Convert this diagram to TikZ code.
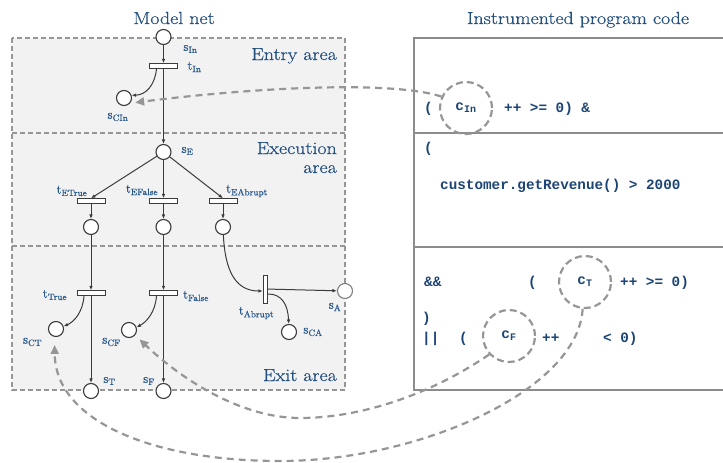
\documentclass[tikz,border=0pt]{standalone}
\usepackage{fontspec}
\newfontfamily\codefont{Liberation Mono}
\newfontfamily\titlefont{Latin Modern Roman}[FakeStretch=1.14,FakeBold=0.5]
\newfontfamily\labfont{Latin Modern Roman}[FakeBold=0.4]
\usetikzlibrary{arrows.meta}
\definecolor{tblue}{RGB}{36,80,128}
\definecolor{lblue}{RGB}{40,88,138}
\definecolor{cblue}{RGB}{28,68,116}
\definecolor{arcgray}{RGB}{60,60,60}
\definecolor{dgray}{RGB}{150,150,150}
\definecolor{areafill}{RGB}{242,242,242}
\definecolor{boxgray}{RGB}{140,140,140}
\begin{document}
\begin{tikzpicture}[x=1pt,y=-1pt,
  place/.style={circle,draw=arcgray,fill=white,line width=1.1pt,minimum size=15pt,inner sep=0pt},
  trans/.style={rectangle,draw=arcgray,fill=white,line width=0.9pt,minimum width=28pt,minimum height=4.5pt,inner sep=0pt},
  vtrans/.style={trans,minimum width=4.5pt,minimum height=28pt},
  arc/.style={draw=arcgray,line width=1pt,-{Latex[length=4.5pt,width=3.6pt]}},
  lab/.style={text=lblue,font=\labfont\fontsize{13}{15}\selectfont,inner sep=0pt},
  title/.style={text=tblue,font=\titlefont\fontsize{17.5}{20}\selectfont,inner sep=0pt},
  code/.style={text=cblue,font=\codefont\bfseries\fontsize{14.3}{16}\selectfont,inner sep=0pt,anchor=base west},
  hole/.style={circle,draw=dgray,line width=2.2pt,dash pattern=on 7pt off 4pt,minimum size=52pt,inner sep=0pt,text=cblue,font=\codefont\bfseries\fontsize{14.3}{16}\selectfont},
  link/.style={draw=dgray,line width=2.2pt,dash pattern=on 7pt off 5pt,-{Triangle[length=9pt,width=8pt]}},
  areaborder/.style={draw=dgray,line width=1.2pt,dash pattern=on 5pt off 3pt},
  codebox/.style={draw=boxgray,line width=1.5pt}
]
\useasboundingbox (0,0) rectangle (723,463);

% areas of the model net
\fill[areafill] (12,38) rectangle (345,390);
\draw[areaborder] (12,38) rectangle (345,390);
\draw[areaborder] (12,133) -- (345,133);
\draw[areaborder] (12,246) -- (345,246);

% code box
\draw[codebox] (760,38) -- (414,38) -- (414,390) -- (760,390);
\draw[codebox] (414,133) -- (760,133);
\draw[codebox] (414,247) -- (760,247);

% titles
\node[title,anchor=base] (tnet) at (174,24) {Model net};
\node[title,anchor=base] (tcode) at (578,24) {Instrumented program code};
\node[title,anchor=base east] (aentry) at (337,60) {Entry area};
\node[title,anchor=base east] (aexec1) at (337,154) {Execution};
\node[title,anchor=base east] (aexec2) at (337,173) {area};
\node[title,anchor=base east] (aexit) at (337,381) {Exit area};

% places and transitions
\node[place] (sIn) at (163.5,37) {};
\node[trans] (tIn) at (163.5,66) {};
\node[place] (sCIn) at (124,98) {};
\node[place] (sE) at (163.5,152) {};
\node[trans] (tETrue) at (91,201) {};
\node[trans] (tEFalse) at (163.5,201) {};
\node[trans] (tEAbrupt) at (223,201) {};
\node[place] (pTrue) at (91,227) {};
\node[place] (pFalse) at (163.5,227) {};
\node[place] (pAbrupt) at (223,227) {};
\node[trans] (tTrue) at (91,293) {};
\node[trans] (tFalse) at (163.5,293) {};
\node[vtrans] (tAbrupt) at (265.5,289) {};
\node[place,draw=gray] (sA) at (345,291) {};
\node[place] (sCA) at (289,332) {};
\node[place] (sCT) at (56,329) {};
\node[place] (sCF) at (129,330) {};
\node[place] (sT) at (91,391) {};
\node[place] (sF) at (163.5,391) {};

% arcs
\draw[arc] (sIn) -- (tIn);
\draw[arc] (tIn) -- (sE);
\draw[arc] ([xshift=-7pt]tIn.south) .. controls (155,85) and (146,95) .. (sCIn.20);
\draw[arc] (sE) -- (tETrue.north);
\draw[arc] (sE) -- (tEFalse.north);
\draw[arc] (sE) -- (tEAbrupt.north);
\draw[arc] (tETrue) -- (pTrue);
\draw[arc] (tEFalse) -- (pFalse);
\draw[arc] (tEAbrupt) -- (pAbrupt);
\draw[arc] (pTrue) -- (tTrue);
\draw[arc] (pFalse) -- (tFalse);
\draw[arc] (tTrue) -- (sT);
\draw[arc] (tFalse) -- (sF);
\draw[arc] ([xshift=-7pt]tTrue.south) .. controls (83,312) and (74,322) .. (sCT.20);
\draw[arc] ([xshift=-7pt]tFalse.south) .. controls (155.5,312) and (146.5,322) .. (sCF.20);
\draw[arc] (pAbrupt) .. controls (225,270) and (235,291) .. ([yshift=-2pt]tAbrupt.west);
\draw[arc] (tAbrupt) -- (sA);
\draw[arc] ([yshift=-5pt]tAbrupt.east) .. controls (282,294) and (288,305) .. (sCA);

% labels
\node[lab] (lsIn) at (190.5,49) {s\textsubscript{In}};
\node[lab] (ltIn) at (194.5,67) {t\textsubscript{In}};
\node[lab] (lsCIn) at (118,117) {s\textsubscript{CIn}};
\node[lab] (lsE) at (187.5,151) {s\textsubscript{E}};
\node[lab] (ltETrue) at (72,191) {t\textsubscript{ETrue}};
\node[lab] (ltEFalse) at (142,190) {t\textsubscript{EFalse}};
\node[lab] (ltEAbrupt) at (247,191) {t\textsubscript{EAbrupt}};
\node[lab] (ltTrue) at (55,295) {t\textsubscript{True}};
\node[lab] (ltFalse) at (196,296) {t\textsubscript{False}};
\node[lab] (ltAbrupt) at (256.5,313) {t\textsubscript{Abrupt}};
\node[lab] (lsA) at (335,307) {s\textsubscript{A}};
\node[lab] (lsCA) at (313,332) {s\textsubscript{CA}};
\node[lab] (lsCT) at (32.5,342) {s\textsubscript{CT}};
\node[lab] (lsCF) at (111.5,342) {s\textsubscript{CF}};
\node[lab] (lsT) at (109.5,381) {s\textsubscript{T}};
\node[lab] (lsF) at (149,381) {s\textsubscript{F}};

% code
\node[code] (c1a) at (424,112) {(};
\node[hole] (cIn) at (466,108) {c\textsubscript{In}};
\node[code] (c1b) at (504,112) {++ >= 0) \&};
\node[code] (c2a) at (424,152) {(};
\node[code] (c2b) at (440,189) {customer.getRevenue() > 2000};
\node[code] (c3a) at (424,286) {\&\&};
\node[code] (c3b) at (528,286) {(};
\node[hole] (cT) at (585,282) {c\textsubscript{T}};
\node[code] (c3c) at (620,286) {++ >= 0)};
\node[code] (c4a) at (422,322) {)};
\node[code] (c5a) at (422,342) {||};
\node[code] (c5b) at (459,342) {(};
\node[hole] (cF) at (509,336) {c\textsubscript{F}};
\node[code] (c5c) at (542,342) {++};
\node[code] (c5d) at (603,342) {< 0)};

% links from code to net
\draw[link,shorten >=5pt] (cIn.155) .. controls (390,80) and (250,88) .. (sCIn.-40);
\draw[link,shorten >=6pt] (cF.-137) .. controls (430,395) and (360,418) .. (300,418)
   .. controls (240,418) and (180,378) .. (sCF.-40);
\draw[link,shorten >=8pt] (cT.-95) .. controls (578,390) and (420,461) .. (280,461)
   .. controls (150,461) and (55,420) .. (sCT.-100);
\end{tikzpicture}
\end{document}
